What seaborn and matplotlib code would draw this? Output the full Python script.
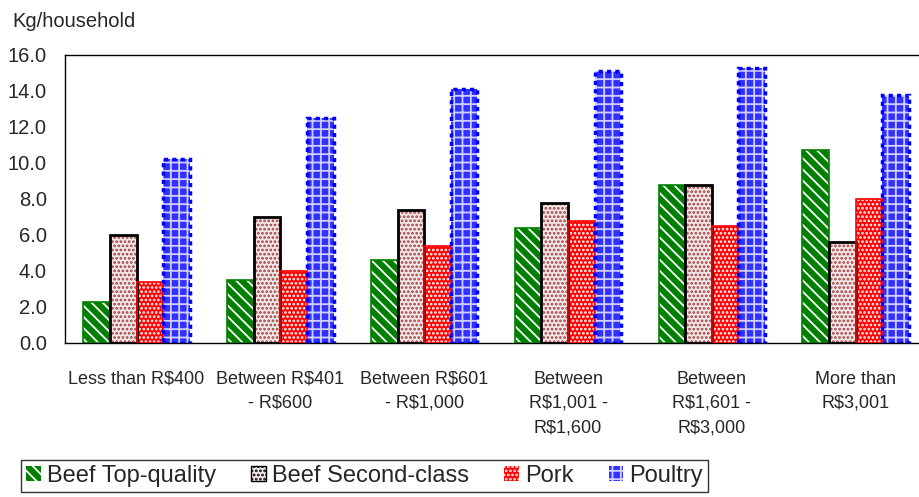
import pandas as pd
import matplotlib
matplotlib.use("Agg")
import matplotlib.pyplot as plt
import matplotlib.patches as mpatches
import seaborn as sns

# data
categories = ["Less than R$400", "Between R$401\n- R$600", "Between R$601\n- R$1,000",
              "Between\nR$1,001 -\nR$1,600", "Between\nR$1,601 -\nR$3,000", "More than\nR$3,001"]
series = ["Beef Top-quality", "Beef Second-class", "Pork", "Poultry"]
beef_top = [2.3, 3.5, 4.6, 6.4, 8.8, 10.7]
beef_second = [6.0, 7.0, 7.4, 7.8, 8.8, 5.6]
pork = [3.4, 4.0, 5.4, 6.8, 6.5, 8.0]
poultry = [10.2, 12.5, 14.1, 15.1, 15.3, 13.8]

# style per series: face, hatch, hatch colour, edge colour, edge width, edge style
styles = {
    "Beef Top-quality": ("#008000", "\\\\\\", "white", "#008000", 1.2, "solid"),
    "Beef Second-class": ("#f3e6e6", "....", "#a04040", "black", 2.0, "solid"),
    "Pork": ("#ff0000", "....", "white", "#ff0000", 1.2, "solid"),
    "Poultry": ("#3030ff", "++", "#d0d0ff", "#0000ff", 2.5, (0, (1.2, 1.2))),
}

rows = []
for name, vals in zip(series, [beef_top, beef_second, pork, poultry]):
    for cat, v in zip(categories, vals):
        rows.append({"cat": cat, "series": name, "kg": v})
df = pd.DataFrame(rows)

sns.set_style("white")
plt.rcParams["font.family"] = ["Liberation Sans", "DejaVu Sans"]
plt.rcParams["hatch.linewidth"] = 1.3

fig = plt.figure(figsize=(9.19, 4.97), dpi=100)
ax = fig.add_axes([0.0704, 0.3099, 0.9389, 0.5795])

palette = {s: styles[s][0] for s in series}
sns.barplot(data=df, x="cat", y="kg", hue="series", order=categories, hue_order=series,
            palette=palette, width=0.74, gap=0, saturation=1, legend=False, ax=ax)

# hatch fill drawn with the hatch colour, then the outline on top
for cont, name in zip(ax.containers, series):
    face, hatch, hcol, ecol, lw, ls = styles[name]
    for p in cont.patches:
        p.set_hatch(hatch)
        p.set_edgecolor(hcol)
        p.set_linewidth(0)
        ax.add_patch(mpatches.Rectangle(p.get_xy(), p.get_width(), p.get_height(), fill=False,
                                        edgecolor=ecol, linewidth=lw, linestyle=ls, zorder=3))

ax.set_ylim(0, 16)
ax.set_xlim(-0.5, 5.5)
ax.set_yticks(range(0, 17, 2))
ax.set_yticklabels([f"{v:.1f}" for v in range(0, 17, 2)], fontsize=14.5)
ax.set_xticks(range(len(categories)))
ax.set_xticklabels(categories, fontsize=13, linespacing=1.55,
                   family=["Liberation Sans Narrow", "Liberation Sans"])
ax.set_xticks([i - 0.5 for i in range(len(categories) + 1)], minor=True)
ax.tick_params(axis="x", which="major", length=0, pad=20)
ax.tick_params(axis="x", which="minor", length=5, width=1, color="black", direction="out")
ax.tick_params(axis="y", length=6, width=1, color="black", direction="out", pad=7)
ax.set_xlabel("")
ax.set_ylabel("")
for sp in ax.spines.values():
    sp.set_color("black")
    sp.set_linewidth(1)
ax.spines["right"].set_visible(False)

fig.text(0.014, 0.975, "Kg/household", fontsize=14.5, va="top", ha="left")

handles = []
for name in series:
    face, hatch, hcol, ecol, lw, ls = styles[name]
    border = "black" if name == "Beef Second-class" else hcol
    handles.append(mpatches.Patch(facecolor=face, edgecolor=border, hatch=hatch,
                                  linewidth=1 if name == "Beef Second-class" else 0))
leg = fig.legend(handles, series, loc="lower left", bbox_to_anchor=(0.023, 0.01), ncol=4,
                 fontsize=17, frameon=True, fancybox=False, handlelength=0.62, handleheight=0.62,
                 handletextpad=0.25, columnspacing=1.5, borderpad=0.22, borderaxespad=0)
leg.get_frame().set_edgecolor("black")
leg.get_frame().set_linewidth(1)

fig.savefig("out.png", dpi=100)
